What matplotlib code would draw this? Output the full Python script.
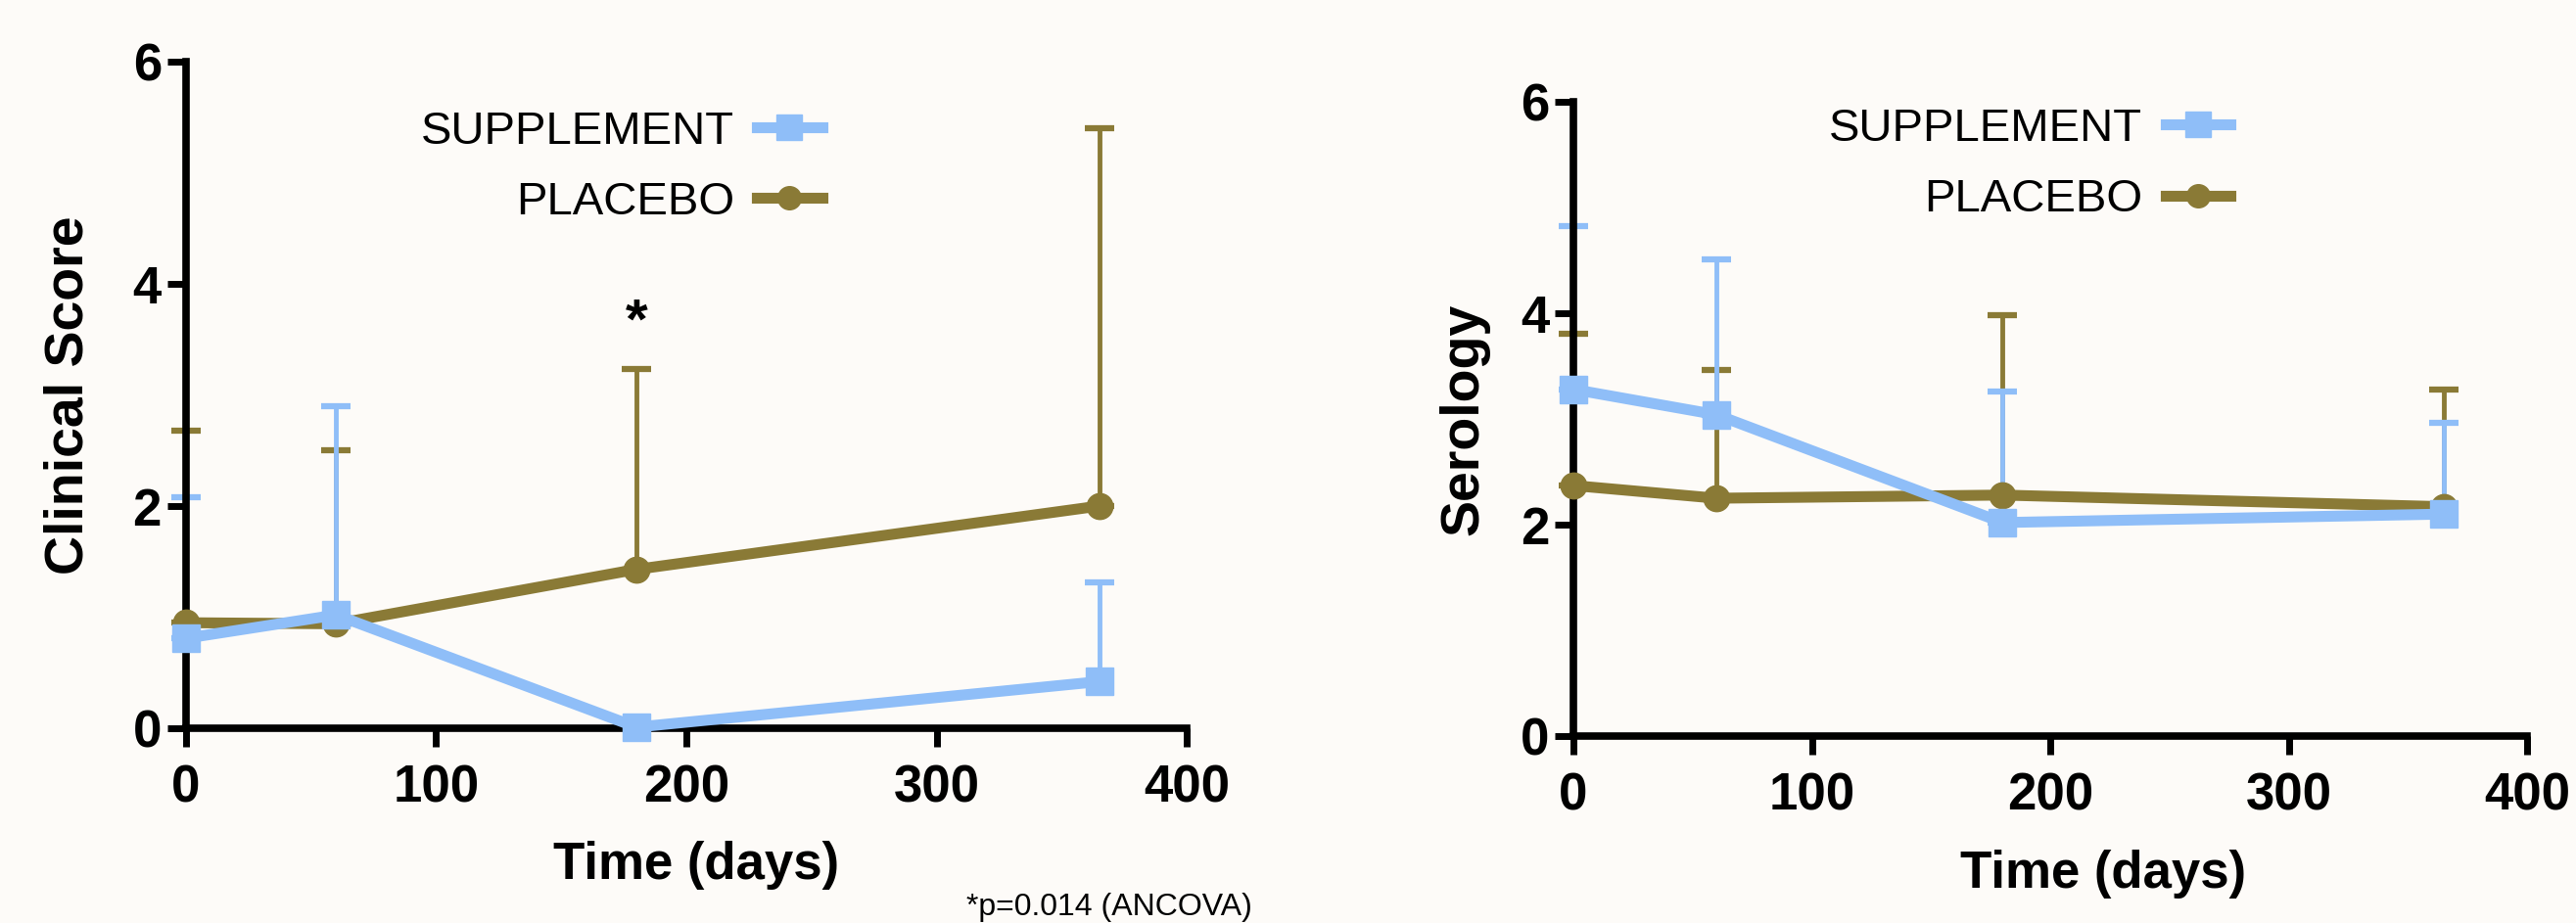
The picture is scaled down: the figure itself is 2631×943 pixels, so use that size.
import numpy as np
import matplotlib
matplotlib.use("Agg")
import matplotlib.pyplot as plt
from matplotlib.lines import Line2D

plt.rcParams['font.family'] = ['Liberation Sans', 'DejaVu Sans']

# data
days = [0, 60, 180, 365]

clin_supp = [0.81, 1.02, 0.01, 0.42]
clin_supp_sd = [1.27, 1.88, 0.0, 0.89]
clin_plac = [0.95, 0.94, 1.43, 2.0]
clin_plac_sd = [1.73, 1.56, 1.80, 3.40]

sero_supp = [3.28, 3.04, 2.02, 2.10]
sero_supp_sd = [1.54, 1.47, 1.24, 0.86]
sero_plac = [2.37, 2.25, 2.28, 2.17]
sero_plac_sd = [1.44, 1.21, 1.70, 1.11]

xticks = [0, 100, 200, 300, 400]
yticks = [0, 2, 4, 6]

BLUE = '#8fbef8'
GOLD = '#8a7a36'
BG = '#fdfbf8'

dpi = 100
fig = plt.figure(figsize=(2631 / dpi, 943 / dpi), dpi=dpi, facecolor=BG)


def panel(rect, supp, supp_sd, plac, plac_sd, ylabel, ylab_x, xlab_pos, leg_anchor):
    ax = fig.add_axes(rect)
    ax.set_facecolor(BG)
    for y, sd, c, m, ms in [(plac, plac_sd, GOLD, 'o', 19), (supp, supp_sd, BLUE, 's', 20)]:
        ax.errorbar(days, y, yerr=[np.zeros(len(sd)), sd], color=c, ecolor=c,
                    elinewidth=3.5, capsize=11, capthick=4.5, fmt='none', clip_on=False)
        ax.plot(days, y, color=c, lw=8, marker=m, ms=ms, clip_on=False, zorder=3)
    ax.set_xlim(0, 400)
    ax.set_ylim(0, 6)
    ax.set_xticks(xticks)
    ax.set_yticks(yticks)
    for s in ['top', 'right']:
        ax.spines[s].set_visible(False)
    for s in ['left', 'bottom']:
        ax.spines[s].set_linewidth(5.5)
    ax.tick_params(width=5, length=14, labelsize=38, direction='out')
    ax.tick_params(axis='x', pad=12)
    ax.tick_params(axis='y', pad=4)
    for lab in ax.get_xticklabels() + ax.get_yticklabels():
        lab.set_fontweight('bold')
    ax.set_xlabel('Time (days)', fontsize=38, fontweight='bold')
    ax.set_ylabel(ylabel, fontsize=40, fontweight='bold')
    ax.xaxis.set_label_coords(*xlab_pos)
    ax.yaxis.set_label_coords(ylab_x, 0.5)
    ax.xaxis.label.set_va('center')
    ax.yaxis.label.set_va('center')

    handles = [Line2D([], [], color=BLUE, lw=8, marker='s', ms=19),
               Line2D([], [], color=GOLD, lw=8, marker='o', ms=17)]
    ax.legend(handles, ['SUPPLEMENT', 'PLACEBO'], loc='upper right',
              bbox_to_anchor=leg_anchor, frameon=False, markerfirst=False,
              fontsize=34, handlelength=1.4, handletextpad=0.5,
              labelspacing=0.6, numpoints=1, borderaxespad=0)
    return ax


ax1 = panel([0.0722, 0.2110, 0.3885, 0.7222], clin_supp, clin_supp_sd,
            clin_plac, clin_plac_sd, 'Clinical Score', -0.117, (0.51, -0.205),
            (0.654, 0.955))
ax1.text(180, 3.64, '*', ha='center', va='center', fontsize=42, fontweight='bold')

ax2 = panel([0.6108, 0.2025, 0.3702, 0.6872], sero_supp, sero_supp_sd,
            sero_plac, sero_plac_sd, 'Serology', -0.115, (0.555, -0.218),
            (0.708, 1.02))

fig.text(1133 / 2631, 1 - 927 / 943, '*p=0.014 (ANCOVA)', ha='center',
         va='center', fontsize=23)

fig.savefig('out.png', dpi=dpi, facecolor=BG)
